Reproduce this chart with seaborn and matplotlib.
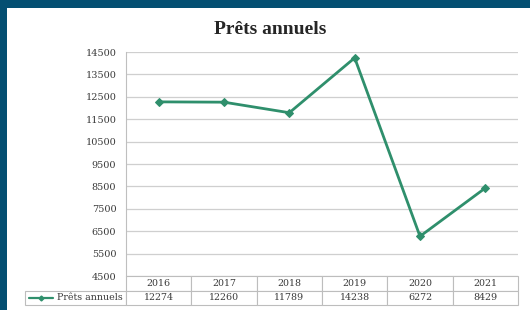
import numpy as np
import pandas as pd
import matplotlib.pyplot as plt
import seaborn as sns
from matplotlib.lines import Line2D
from matplotlib.patches import Rectangle

sns.set_style('white')
plt.rcParams['font.family'] = ['DejaVu Serif']

years = ['2016', '2017', '2018', '2019', '2020', '2021']
loans = [12274, 12260, 11789, 14238, 6272, 8429]
series_name = 'Prêts annuels'
title = 'Prêts annuels'
yticks = list(range(4500, 14501, 1000))

green = '#2f8f6c'
border = '#044f72'
txt = '#3a3a3a'

df = pd.DataFrame({'year': years, 'value': loans})
df['pos'] = np.arange(len(years))

fig = plt.figure(figsize=(5.3, 3.1), dpi=100)
fig.patch.set_facecolor(border)
fig.patches.append(Rectangle((7 / 530, 0), 1, 1 - 8 / 310, transform=fig.transFigure,
                             facecolor='white', edgecolor='none', zorder=-5))

L, R, T, B = 126, 518, 52, 276
ax = fig.add_axes([L / 530, 1 - B / 310, (R - L) / 530, (B - T) / 310])
ax.set_facecolor('white')
sns.lineplot(data=df, x='pos', y='value', ax=ax, color=green, linewidth=2,
             marker='D', markersize=4, markeredgecolor=green)
ax.set_xlim(-0.5, len(years) - 0.5)
ax.set_ylim(4500, 14500)
ax.set_yticks(yticks)
ax.set_yticklabels([str(t) for t in yticks], fontsize=7, color=txt)
ax.set_xticks([])
ax.set_xlabel('')
ax.set_ylabel('')
ax.grid(axis='y', color='#cfcfcf', linewidth=0.9)
for s in ['top', 'right', 'bottom']:
    ax.spines[s].set_visible(False)
ax.spines['left'].set_color('#bfbfbf')
ax.spines['left'].set_linewidth(0.8)
ax.tick_params(axis='y', length=0, pad=7)

W, H = R - L, B - T
# data table under the plot
cells = [[''] + years, [''] + [str(v) for v in loans]]
x0 = (25 - L) / W
tbl = ax.table(cellText=cells, cellLoc='center',
               colWidths=[L - 25] + [W / len(years)] * len(years),
               bbox=[x0, -29 / H, 1 - x0, 29 / H])
tbl.auto_set_font_size(False)
tbl.set_fontsize(6.8)
for (r, c), cell in tbl.get_celld().items():
    cell.set_edgecolor('#bdbdbd')
    cell.set_linewidth(0.8)
    cell.get_text().set_color(txt)
    if r == 0 and c == 0:
        cell.set_edgecolor('white')
        cell.set_linewidth(0)

# legend key inside the table
ly = -(298 - B) / H
ax.add_line(Line2D([(29 - L) / W, (53 - L) / W], [ly, ly], transform=ax.transAxes,
                   color=green, linewidth=1.6, clip_on=False))
ax.plot([(41 - L) / W], [ly], transform=ax.transAxes, marker='D', markersize=2.5,
        color=green, clip_on=False)
ax.text((123 - L) / W, ly, series_name, transform=ax.transAxes, ha='right',
        va='center', fontsize=6.8, color=txt)

fig.text(270 / 530, 1 - 29 / 310, title, ha='center', va='center',
         fontsize=14, fontweight='bold', family='Liberation Serif')

fig.savefig('out.png', dpi=100, facecolor=fig.get_facecolor())
